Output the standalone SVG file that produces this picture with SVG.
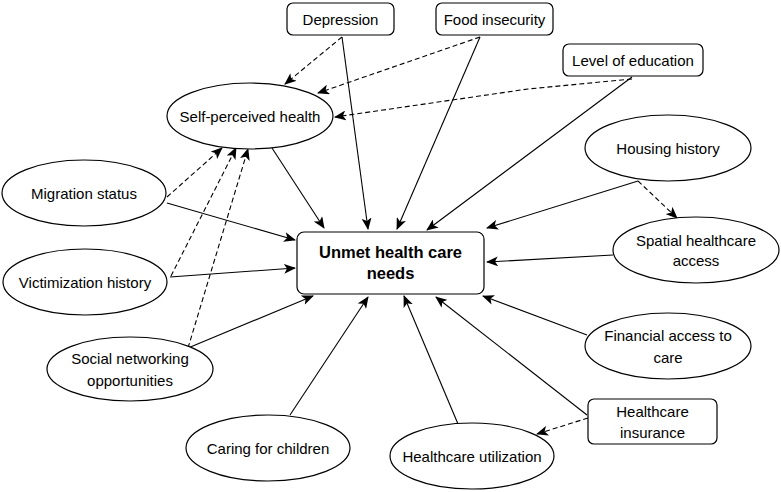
<svg xmlns="http://www.w3.org/2000/svg" width="781" height="492" viewBox="0 0 781 492">
<style>
.n{fill:#fff;stroke:#000;stroke-width:1.2}
.t{font-family:"Liberation Sans",Arial,sans-serif;font-size:15px;text-anchor:middle;dominant-baseline:central;fill:#000}
.b{font-weight:bold;font-size:16.5px}
.e{fill:none;stroke:#000;stroke-width:1.1}
.d{stroke-dasharray:5 3}
</style>
<defs>
<marker id="a" viewBox="0 0 12 10" refX="11" refY="5" markerWidth="12" markerHeight="10" markerUnits="userSpaceOnUse" orient="auto">
<path d="M0,0 L12,5 L0,10 L3,5 Z" fill="#000"/>
</marker>
</defs>
<rect width="781" height="492" fill="#fff"/>
<g id="connectors">
<path class="e" d="M272,148 L324,228" marker-end="url(#a)"/>
<path class="e" d="M342,37 L368,229" marker-end="url(#a)"/>
<path class="e" d="M480,37 L397,229" marker-end="url(#a)"/>
<path class="e" d="M632,77 L427,230" marker-end="url(#a)"/>
<path class="e" d="M167,203 L295,240" marker-end="url(#a)"/>
<path class="e" d="M170,277 L295,268" marker-end="url(#a)"/>
<path class="e" d="M188,348 L313,296" marker-end="url(#a)"/>
<path class="e" d="M290,415 L368,297" marker-end="url(#a)"/>
<path class="e" d="M458,424 L404,296" marker-end="url(#a)"/>
<path class="e" d="M587,415 L436,297" marker-end="url(#a)"/>
<path class="e" d="M587,335 L483,296" marker-end="url(#a)"/>
<path class="e" d="M613,255 L487,262" marker-end="url(#a)"/>
<path class="e" d="M638,181 L487,228" marker-end="url(#a)"/>
<path class="e d" d="M638,181 L677,218" marker-end="url(#a)"/>
<path class="e d" d="M588,418 L537,434" marker-end="url(#a)"/>
<path class="e d" d="M342,37 L285,84" marker-end="url(#a)"/>
<path class="e d" d="M480,37 L318,93" marker-end="url(#a)"/>
<path class="e d" d="M632,79 L528,89 L335,117" marker-end="url(#a)"/>
<path class="e d" d="M167,197 L222,148" marker-end="url(#a)"/>
<path class="e d" d="M171,276 L236,148" marker-end="url(#a)"/>
<path class="e d" d="M188,348 L248,149" marker-end="url(#a)"/>
</g>
<g id="depression"><rect class="n" x="287" y="3" width="107" height="32" rx="6"/><text class="t" x="340.5" y="19">Depression</text></g>
<g id="food"><rect class="n" x="436" y="3" width="117" height="32" rx="6"/><text class="t" x="494.5" y="19">Food insecurity</text></g>
<g id="education"><rect class="n" x="563" y="44" width="140" height="32" rx="6"/><text class="t" x="633" y="60">Level of education</text></g>
<g id="self"><ellipse class="n" cx="250" cy="116" rx="83" ry="33"/><text class="t" x="250" y="116">Self-perceived health</text></g>
<g id="housing"><ellipse class="n" cx="668" cy="148" rx="83" ry="33"/><text class="t" x="668" y="148">Housing history</text></g>
<g id="migration"><ellipse class="n" cx="84" cy="193" rx="82" ry="33"/><text class="t" x="84" y="193">Migration status</text></g>
<g id="unmet"><rect class="n" x="297" y="232" width="187" height="62" rx="7"/><text class="t b" x="390.5" y="252">Unmet health care</text><text class="t b" x="390.5" y="273">needs</text></g>
<g id="spatial"><ellipse class="n" cx="696" cy="250" rx="83" ry="33"/><text class="t" x="696" y="240">Spatial healthcare</text><text class="t" x="696" y="260">access</text></g>
<g id="victimization"><ellipse class="n" cx="85" cy="282" rx="82" ry="33"/><text class="t" x="85" y="282">Victimization history</text></g>
<g id="financial"><ellipse class="n" cx="668" cy="346" rx="83" ry="33"/><text class="t" x="668" y="335">Financial access to</text><text class="t" x="668" y="357">care</text></g>
<g id="social"><ellipse class="n" cx="130" cy="369" rx="83" ry="32"/><text class="t" x="130" y="358">Social networking</text><text class="t" x="130" y="380">opportunities</text></g>
<g id="insurance"><rect class="n" x="588" y="399" width="129" height="45" rx="6"/><text class="t" x="652.5" y="411">Healthcare</text><text class="t" x="652.5" y="432">insurance</text></g>
<g id="caring"><ellipse class="n" cx="268" cy="448" rx="82" ry="33"/><text class="t" x="268" y="448">Caring for children</text></g>
<g id="utilization"><ellipse class="n" cx="472" cy="456" rx="82" ry="33"/><text class="t" x="472" y="456">Healthcare utilization</text></g>
</svg>
